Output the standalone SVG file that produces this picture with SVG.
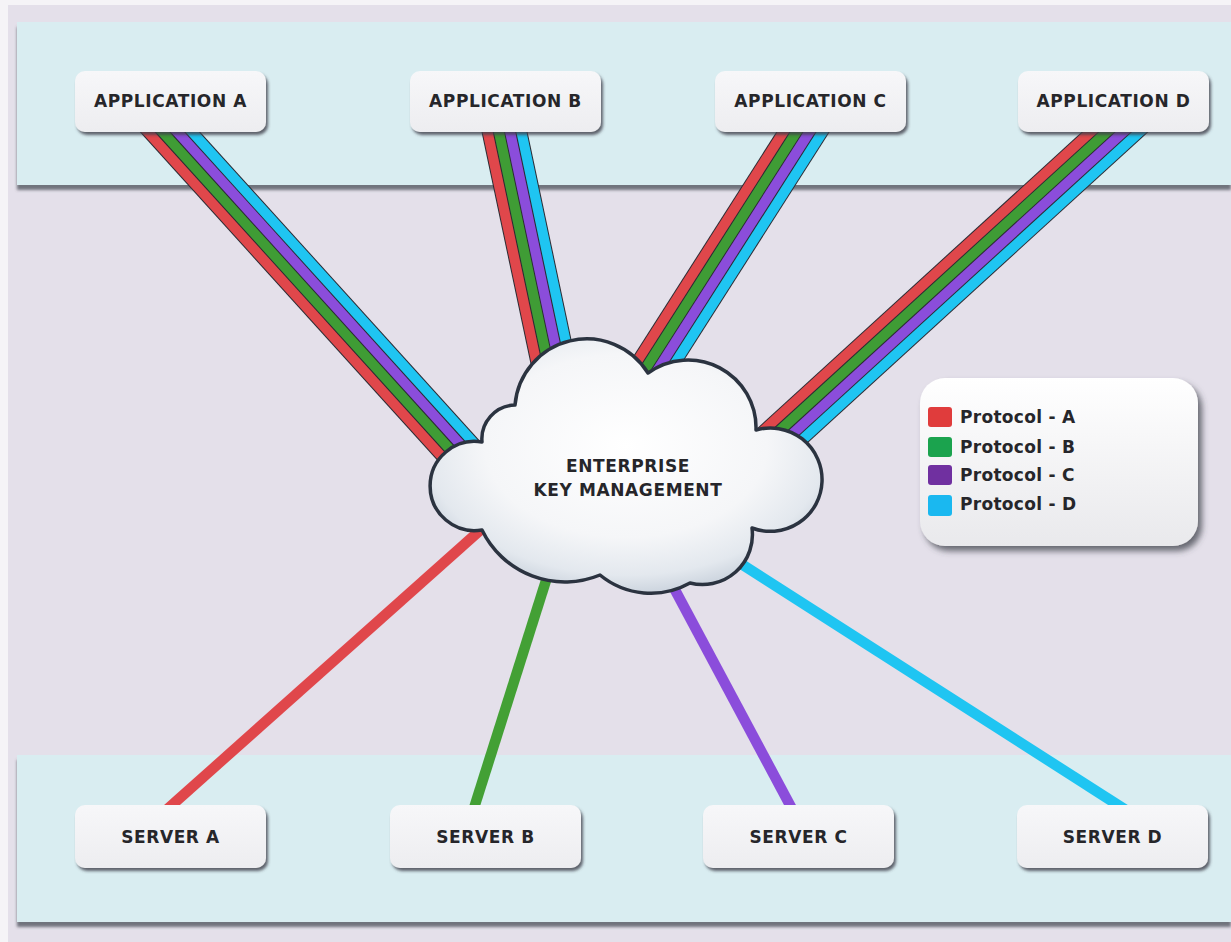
<svg xmlns="http://www.w3.org/2000/svg" width="1231" height="942" viewBox="0 0 1231 942">
<defs>
<filter id="bandShadow" x="-5%" y="-10%" width="110%" height="130%">
<feDropShadow dx="0" dy="5" stdDeviation="1.8" flood-color="#4a4f5a" flood-opacity="0.75"/>
</filter>
<filter id="boxShadow" x="-10%" y="-20%" width="125%" height="150%">
<feDropShadow dx="2" dy="3" stdDeviation="1.6" flood-color="#3c3f48" flood-opacity="0.8"/>
</filter>
<filter id="legendShadow" x="-10%" y="-10%" width="125%" height="130%">
<feDropShadow dx="4" dy="5" stdDeviation="3" flood-color="#3c3f48" flood-opacity="0.75"/>
</filter>
<linearGradient id="boxFill" x1="0" y1="0" x2="0" y2="1">
<stop offset="0" stop-color="#f7f7f9"/>
<stop offset="1" stop-color="#ededf0"/>
</linearGradient>
<linearGradient id="legendFill" x1="0" y1="0" x2="0" y2="1">
<stop offset="0" stop-color="#ffffff"/>
<stop offset="1" stop-color="#e9e9ec"/>
</linearGradient>
<radialGradient id="cloudFill" cx="0.5" cy="0.42" r="0.6">
<stop offset="0" stop-color="#ffffff"/>
<stop offset="0.6" stop-color="#f5f6f8"/>
<stop offset="0.85" stop-color="#e3e8ee"/>
<stop offset="1" stop-color="#c6cfda"/>
</radialGradient>
<style>
.band{fill:#d9edf1;filter:url(#bandShadow)}
.box{fill:url(#boxFill);filter:url(#boxShadow)}
.lbl{font-family:"DejaVu Sans",Verdana,sans-serif;font-weight:bold;font-size:17px;letter-spacing:0.6px;fill:#26262a;text-anchor:middle}
.leg{font-family:"DejaVu Sans",Verdana,sans-serif;font-weight:bold;font-size:17px;letter-spacing:0.3px;fill:#26262a}
.dk{stroke:#2b2b33;stroke-width:12;fill:none}
.r{stroke:#e0474b;stroke-width:10;fill:none}
.g{stroke:#3f9c35;stroke-width:10;fill:none}
.p{stroke:#8b4ddb;stroke-width:10;fill:none}
.c{stroke:#1fc5f2;stroke-width:10;fill:none}
.s{stroke-width:10.5;fill:none}
</style>
</defs>

<rect x="0" y="0" width="1231" height="942" fill="#f5f4f7"/>
<rect x="8" y="5" width="1223" height="937" fill="#e4e0ea"/>
<rect class="band" x="17" y="22" width="1214" height="163"/>
<rect class="band" x="17" y="755" width="1214" height="167"/>

<g id="connectors">
<!-- bundle A -->
<line class="dk" x1="127.9" y1="110" x2="453.9" y2="470"/>
<line class="dk" x1="142.7" y1="110" x2="468.7" y2="470"/>
<line class="dk" x1="157.5" y1="110" x2="483.5" y2="470"/>
<line class="dk" x1="172.3" y1="110" x2="498.3" y2="470"/>
<line class="r" x1="127.9" y1="110" x2="453.9" y2="470"/>
<line class="g" x1="142.7" y1="110" x2="468.7" y2="470"/>
<line class="p" x1="157.5" y1="110" x2="483.5" y2="470"/>
<line class="c" x1="172.3" y1="110" x2="498.3" y2="470"/>
<!-- bundle B -->
<line class="dk" x1="483" y1="110" x2="544.3" y2="400"/>
<line class="dk" x1="494.3" y1="110" x2="555.6" y2="400"/>
<line class="dk" x1="505.5" y1="110" x2="566.8" y2="400"/>
<line class="dk" x1="516.8" y1="110" x2="578.1" y2="400"/>
<line class="r" x1="483" y1="110" x2="544.3" y2="400"/>
<line class="g" x1="494.3" y1="110" x2="555.6" y2="400"/>
<line class="p" x1="505.5" y1="110" x2="566.8" y2="400"/>
<line class="c" x1="516.8" y1="110" x2="578.1" y2="400"/>
<!-- bundle C -->
<line class="dk" x1="797.4" y1="110" x2="612.4" y2="400"/>
<line class="dk" x1="810.5" y1="110" x2="625.5" y2="400"/>
<line class="dk" x1="823.5" y1="110" x2="638.5" y2="400"/>
<line class="dk" x1="836.6" y1="110" x2="651.6" y2="400"/>
<line class="r" x1="797.4" y1="110" x2="612.4" y2="400"/>
<line class="g" x1="810.5" y1="110" x2="625.5" y2="400"/>
<line class="p" x1="823.5" y1="110" x2="638.5" y2="400"/>
<line class="c" x1="836.6" y1="110" x2="651.6" y2="400"/>
<!-- bundle D -->
<line class="dk" x1="1114.6" y1="110" x2="720.2" y2="470"/>
<line class="dk" x1="1130.9" y1="110" x2="736.5" y2="470"/>
<line class="dk" x1="1147.3" y1="110" x2="752.9" y2="470"/>
<line class="dk" x1="1163.6" y1="110" x2="769.2" y2="470"/>
<line class="r" x1="1114.6" y1="110" x2="720.2" y2="470"/>
<line class="g" x1="1130.9" y1="110" x2="736.5" y2="470"/>
<line class="p" x1="1147.3" y1="110" x2="752.9" y2="470"/>
<line class="c" x1="1163.6" y1="110" x2="769.2" y2="470"/>
<!-- servers -->
<line class="s" stroke="#e0474b" x1="160.8" y1="815" x2="495" y2="517"/>
<line class="s" stroke="#43a035" x1="471.8" y1="815" x2="552.5" y2="560"/>
<line class="s" stroke="#8b4ddb" x1="795.3" y1="815" x2="659" y2="560"/>
<line class="s" stroke="#1fc5f2" x1="1133.6" y1="815" x2="703.8" y2="540"/>
</g>

<g id="ekm">
<path d="M 482 530 A 44.6 44.6 0 1 1 482 442 A 34 34 0 0 1 515 405 A 72 72 0 0 1 648 373 A 68 68 0 0 1 756 430 A 51.7 51.7 0 1 1 752 528 A 50 50 0 0 1 690 583 A 80 80 0 0 1 600 575 A 92 92 0 0 1 482 530 Z" fill="url(#cloudFill)" stroke="#2b3340" stroke-width="3.5" stroke-linejoin="round"/>
<text class="lbl" x="628" y="472">ENTERPRISE</text>
<text class="lbl" x="628" y="496">KEY MANAGEMENT</text>
</g>

<g id="app-a"><rect class="box" x="75" y="71" width="191" height="61" rx="10"/><text class="lbl" x="170.5" y="107">APPLICATION A</text></g>
<g id="app-b"><rect class="box" x="410" y="71" width="191" height="61" rx="10"/><text class="lbl" x="505.5" y="107">APPLICATION B</text></g>
<g id="app-c"><rect class="box" x="715" y="71" width="191" height="61" rx="10"/><text class="lbl" x="810.5" y="107">APPLICATION C</text></g>
<g id="app-d"><rect class="box" x="1018" y="71" width="191" height="61" rx="10"/><text class="lbl" x="1113.5" y="107">APPLICATION D</text></g>

<g id="server-a"><rect class="box" x="75" y="805" width="191" height="63" rx="10"/><text class="lbl" x="170.5" y="843">SERVER A</text></g>
<g id="server-b"><rect class="box" x="390" y="805" width="191" height="63" rx="10"/><text class="lbl" x="485.5" y="843">SERVER B</text></g>
<g id="server-c"><rect class="box" x="703" y="805" width="191" height="63" rx="10"/><text class="lbl" x="798.5" y="843">SERVER C</text></g>
<g id="server-d"><rect class="box" x="1017" y="805" width="191" height="63" rx="10"/><text class="lbl" x="1112.5" y="843">SERVER D</text></g>

<g id="legend">
<rect x="920" y="378" width="278" height="168" rx="25" fill="url(#legendFill)" filter="url(#legendShadow)"/>
<rect x="928" y="407" width="24" height="20" rx="3" fill="#e03c3c"/>
<rect x="928" y="437" width="24" height="20" rx="3" fill="#1ba34e"/>
<rect x="928" y="465" width="24" height="20" rx="3" fill="#7030a0"/>
<rect x="928" y="495" width="24" height="21" rx="3" fill="#1ab8f0"/>
<text class="leg" x="960" y="423">Protocol - A</text>
<text class="leg" x="960" y="453">Protocol - B</text>
<text class="leg" x="960" y="481">Protocol - C</text>
<text class="leg" x="960" y="510">Protocol - D</text>
</g>
</svg>
